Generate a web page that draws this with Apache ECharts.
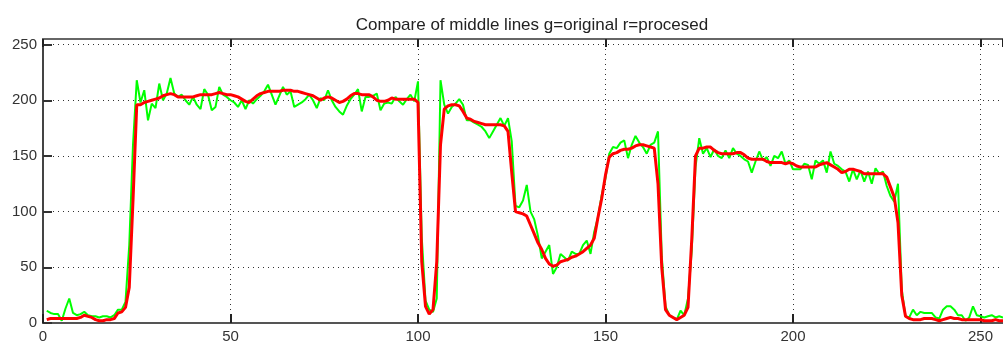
<!DOCTYPE html>
<html>
<head>
<meta charset="utf-8">
<script src="https://cdn.jsdelivr.net/npm/echarts@6/dist/echarts.min.js"></script>
<style>
  html, body { margin: 0; padding: 0; background: #fff; }
  #chart { width: 1003px; height: 344px; }
</style>
</head>
<body>
<div id="chart"></div>
<script>
// middle line profile, sample index 1..256
var original = [
  11, 9, 8, 8, 2, 13, 22, 9, 7, 8, 10, 7, 6, 6, 5, 6, 6, 5, 7, 12,
  12, 19, 70, 160, 218, 198, 209, 182, 197, 193, 215, 200, 206, 220, 206, 203, 205, 200, 196, 203,
  196, 192, 210, 205, 191, 194, 212, 205, 203, 200, 198, 194, 200, 192, 200, 197, 201, 204, 208, 214,
  205, 196, 204, 212, 205, 208, 194, 196, 198, 201, 205, 200, 193, 202, 200, 209, 200, 194, 190, 187,
  195, 201, 205, 210, 190, 203, 203, 204, 206, 191, 197, 198, 197, 203, 199, 196, 201, 205, 199, 217,
  77, 20, 12, 10, 22, 218, 196, 188, 194, 197, 201, 196, 182, 182, 180, 178, 176, 172, 166, 172,
  178, 184, 177, 184, 163, 105, 104, 110, 124, 100, 93, 78, 58, 64, 70, 44, 50, 62, 59, 56,
  64, 62, 62, 70, 74, 62, 82, 95, 115, 130, 152, 158, 157, 162, 164, 148, 160, 168, 162, 158,
  152, 160, 162, 172, 60, 15, 7, 5, 3, 11, 7, 22, 65, 140, 166, 152, 157, 149, 156, 150,
  148, 155, 148, 157, 152, 150, 147, 145, 135, 145, 154, 146, 149, 141, 150, 148, 154, 143, 146, 138,
  138, 138, 143, 142, 129, 146, 143, 146, 135, 154, 143, 141, 138, 136, 127, 138, 129, 137, 127, 136,
  125, 139, 134, 136, 123, 114, 109, 125, 30, 6, 5, 12, 7, 10, 9, 9, 9, 5, 4, 12,
  15, 15, 12, 7, 7, 2, 5, 15, 7, 6, 5, 6, 7, 5, 6, 5
];
var processed = [
  3, 4, 4, 4, 4, 4, 4, 4, 4, 5, 7, 6, 5, 3, 2, 2, 3, 3, 4, 9,
  10, 14, 32, 110, 196, 196, 198, 199, 200, 201, 202, 204, 205, 206, 205, 203, 203, 203, 203, 203,
  204, 205, 205, 205, 205, 206, 207, 206, 205, 205, 204, 203, 201, 199, 198, 201, 204, 206, 207, 208,
  208, 208, 208, 209, 209, 209, 208, 208, 207, 206, 205, 204, 202, 200, 202, 203, 202, 200, 198, 199,
  201, 204, 206, 206, 205, 205, 205, 203, 200, 199, 199, 200, 202, 201, 201, 201, 201, 201, 201, 198,
  55, 15, 8, 12, 55, 160, 192, 195, 196, 196, 195, 190, 184, 183, 181, 180, 179, 178, 178, 178,
  178, 178, 177, 172, 135, 100, 99, 98, 96, 88, 80, 72, 66, 58, 53, 51, 52, 55, 56, 57,
  59, 60, 62, 64, 67, 70, 76, 95, 112, 133, 149, 152, 153, 155, 156, 156, 157, 159, 160, 160,
  159, 158, 157, 125, 50, 12, 7, 5, 3, 5, 7, 14, 75, 150, 157, 157, 158, 158, 155, 153,
  152, 152, 152, 152, 153, 153, 151, 148, 147, 147, 147, 147, 145, 144, 144, 144, 144, 143, 144, 143,
  141, 140, 140, 140, 140, 140, 142, 143, 144, 142, 140, 138, 135, 136, 138, 138, 137, 136, 134, 134,
  134, 134, 134, 134, 131, 122, 113, 90, 25, 6, 4, 3, 3, 3, 4, 4, 4, 3, 2, 3,
  4, 5, 4, 4, 3, 3, 3, 3, 3, 3, 2, 2, 2, 3, 2, 2
];
var xTicks = [0, 50, 100, 150, 200, 250];
var yTicks = [0, 50, 100, 150, 200, 250];

function pairs(arr) {
  return arr.map(function (v, i) { return [i + 1, v]; });
}

var dotted = { color: '#333', width: 1, type: [1, 4] };
var tickLabel = { color: '#333', fontSize: 15, fontFamily: 'Liberation Sans, Arial, sans-serif' };

var chart = echarts.init(document.getElementById('chart'));
chart.setOption({
  animation: false,
  backgroundColor: '#fff',
  title: {
    text: 'Compare of middle lines g=original r=procesed',
    left: 527,
    top: 12,
    textAlign: 'center',
    textStyle: { color: '#222', fontSize: 17, fontWeight: 'normal', fontFamily: 'Liberation Sans, Arial, sans-serif' }
  },
  grid: { left: 43, top: 39, right: -11, bottom: 21 },
  xAxis: [{
    type: 'value', min: 0, max: 256, interval: 50,
    axisLine: { lineStyle: { color: '#555', width: 2 } },
    axisTick: { inside: true, length: 9, lineStyle: { color: '#222', width: 2 } },
    axisLabel: Object.assign({ margin: 6 }, tickLabel),
    splitLine: { show: true, lineStyle: dotted }
  }, {
    type: 'value', min: 0, max: 256, interval: 50, position: 'top',
    axisLine: { lineStyle: { color: '#666', width: 2 } },
    axisTick: { inside: true, length: 8, lineStyle: { color: '#222', width: 2 } },
    axisLabel: { show: false },
    splitLine: { show: false }
  }],
  yAxis: {
    type: 'value', min: 0, max: 255, interval: 50,
    axisLine: { lineStyle: { color: '#444', width: 2 } },
    axisTick: { inside: true, length: 9, lineStyle: { color: '#333', width: 2 } },
    axisLabel: Object.assign({ margin: 6 }, tickLabel),
    splitLine: { show: true, lineStyle: dotted }
  },
  series: [{
    name: 'original', type: 'line', showSymbol: false,
    lineStyle: { color: '#00ff00', width: 2 },
    data: pairs(original)
  }, {
    name: 'processed', type: 'line', showSymbol: false,
    lineStyle: { color: '#ff0000', width: 3 },
    data: pairs(processed)
  }]
});
</script>
</body>
</html>
